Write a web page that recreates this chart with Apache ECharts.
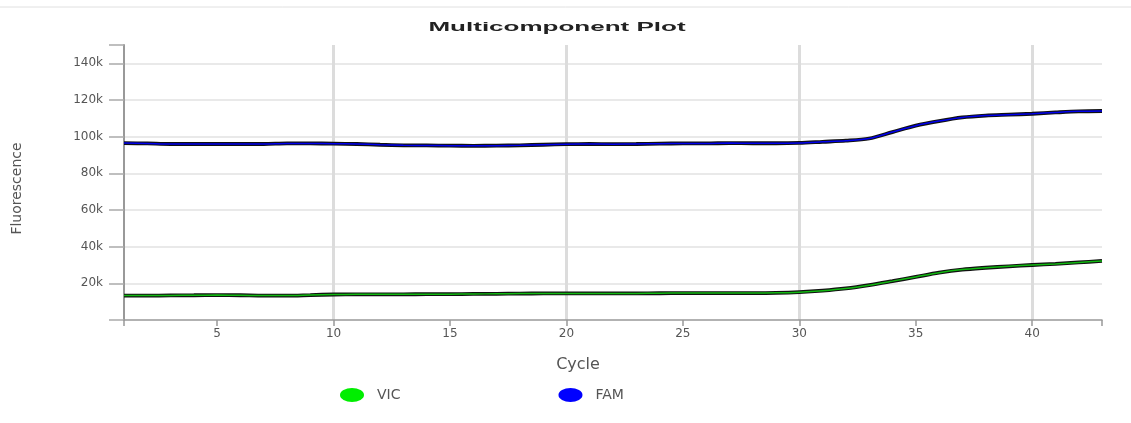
<!DOCTYPE html>
<html>
<head>
<meta charset="utf-8">
<script src="https://cdn.jsdelivr.net/npm/echarts@6/dist/echarts.min.js"></script>
<style>
html,body{margin:0;padding:0;background:#fff;}
#chart{width:1131px;height:423px;}
</style>
</head>
<body>
<div id="chart"></div>
<script>
// ---- data ----
var cycles = [1,2,3,4,5,6,7,8,9,10,11,12,13,14,15,16,17,18,19,20,21,22,23,24,25,26,27,28,29,30,31,32,33,34,35,36,37,38,39,40,41,42,43];
var vicValues = [13300,13300,13400,13500,13600,13500,13300,13300,13600,13900,14000,14000,14000,14100,14100,14200,14300,14400,14500,14500,14500,14500,14500,14600,14700,14700,14700,14700,14800,15200,16000,17200,19000,21200,23500,25800,27500,28500,29300,30000,30600,31400,32200];
var famValues = [96500,96300,96000,96000,96000,96000,96000,96300,96300,96200,96000,95600,95300,95200,95100,95000,95100,95300,95600,95900,96000,95900,96000,96200,96300,96300,96500,96400,96400,96600,97200,97800,99000,102500,106000,108500,110500,111500,112000,112500,113200,113800,114000];
var yTicks = [0,20000,40000,60000,80000,100000,120000,140000];
var seriesNames = ['VIC','FAM'];
var seriesColors = ['#00ee00','#0000ff'];
var lineColors = ['#11b811','#0000ee'];

var chart = echarts.init(document.getElementById('chart'));
var ellipse = 'path://M0,7 A12,7 0 1,0 24,7 A12,7 0 1,0 0,7 Z';

function pair(name, data, legendColor, lineColor) {
  return [
    {
      name: name + ' outline', type: 'line', data: data, smooth: 0.3,
      showSymbol: false, silent: true, z: 2,
      lineStyle: {color: '#111', width: 3.8}, itemStyle: {color: '#111'}
    },
    {
      name: name, type: 'line', data: data, smooth: 0.3,
      showSymbol: false, z: 3, symbol: ellipse,
      lineStyle: {color: lineColor, width: 1.5}, itemStyle: {color: legendColor}
    }
  ];
}

var splitColors = ['rgba(0,0,0,0)'];
for (var i = 1; i < yTicks.length; i++) splitColors.push('#e2e2e2');
splitColors.push('rgba(0,0,0,0)');

var option = {
  animation: false,
  backgroundColor: '#fff',
  graphic: [
    {type: 'line', shape: {x1: 0, y1: 7, x2: 1131, y2: 7}, style: {stroke: '#e0e0e0', lineWidth: 1}},
    {type: 'text', x: 557, y: 27, scaleX: 2.0, style: {text: 'Multicomponent Plot', font: 'bold 13px "Liberation Sans", Arial, sans-serif', fill: '#222', align: 'center', verticalAlign: 'middle'}}
  ],
  legend: {
    data: [
      {name: 'VIC', icon: ellipse},
      {name: 'FAM', icon: ellipse}
    ],
    left: 335, top: 383,
    itemWidth: 24, itemHeight: 14,
    itemGap: 158,
    textStyle: {color: '#555', fontSize: 14, fontFamily: 'DejaVu Sans', padding: [0, 0, 0, 8]}
  },
  grid: {left: 124, right: 29, top: 45, bottom: 103, containLabel: false},
  xAxis: {
    type: 'category',
    data: cycles,
    boundaryGap: false,
    name: 'Cycle',
    nameLocation: 'middle',
    nameGap: 37,
    nameTextStyle: {color: '#555', fontSize: 16, fontFamily: 'DejaVu Sans', padding: [0, 70, 0, 0]},
    axisLine: {lineStyle: {color: '#999', width: 1.5}},
    axisTick: {
      show: true, length: 6, inside: false,
      interval: function (idx, val) { return (+val) % 5 === 0 || idx === 0 || idx === cycles.length - 1; },
      lineStyle: {color: '#999', width: 1.5}
    },
    axisLabel: {
      color: '#555', fontSize: 12, fontFamily: 'DejaVu Sans', margin: 8,
      interval: function (idx, val) { return (+val) % 5 === 0; }
    },
    splitLine: {
      show: true,
      interval: function (idx, val) { return (+val) % 10 === 0; },
      lineStyle: {color: '#dcdcdc', width: 3}
    }
  },
  yAxis: {
    type: 'value',
    min: 0, max: 150000, interval: 20000,
    name: 'Fluorescence',
    nameLocation: 'middle',
    nameGap: 100,
    nameTextStyle: {color: '#555', fontSize: 14, fontFamily: 'DejaVu Sans', padding: [0, 12, 0, 0]},
    axisLine: {show: true, lineStyle: {color: '#999', width: 2}},
    axisTick: {show: true, length: 15, lineStyle: {color: '#aaa', width: 1.5}},
    axisLabel: {
      color: '#555', fontSize: 12, fontFamily: 'DejaVu Sans', margin: 21,
      formatter: function (v) { return (v === 0 || yTicks.indexOf(v) < 0) ? '' : (v / 1000) + 'k'; }
    },
    splitLine: {show: true, lineStyle: {color: splitColors, width: 1.5}}
  },
  series: [].concat(
    pair(seriesNames[0], vicValues, seriesColors[0], lineColors[0]),
    pair(seriesNames[1], famValues, seriesColors[1], lineColors[1])
  )
};
chart.setOption(option);
</script>
</body>
</html>
